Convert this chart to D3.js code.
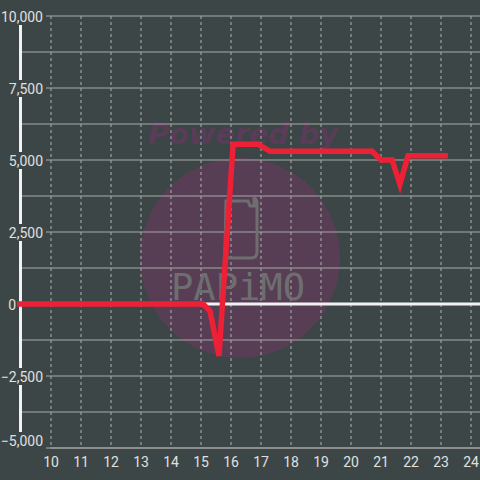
<!DOCTYPE html>
<html><head><meta charset="utf-8">
<script src="https://cdn.jsdelivr.net/npm/d3@7"></script>
<style>html,body{margin:0;padding:0;background:#3c4646;}svg{display:block;}</style>
</head><body>
<script>
const times = [8.87, 15.07, 15.3, 15.6, 16.07, 16.9, 17.3, 20.7, 21.0, 21.37, 21.63, 21.9, 23.23];
const values = [0, 0, -250, -1800, 5550, 5550, 5300, 5300, 5000, 5000, 4150, 5150, 5150];
const yTicks = [-5000, -2500, 0, 2500, 5000, 7500, 10000];
const yMinor = [-3750, -1250, 1250, 3750, 6250, 8750];
const xTicks = [10, 11, 12, 13, 14, 15, 16, 17, 18, 19, 20, 21, 22, 23, 24];

const W = 480, H = 480;
const svg = d3.select("body").append("svg").attr("width", W).attr("height", H);
svg.append("rect").attr("width", W).attr("height", H).attr("fill", "#3c4646");

const x = d3.scaleLinear().domain([10, 24]).range([51, 471]);
const y = d3.scaleLinear().domain([-5000, 10000]).range([448, 16]);

// watermark
svg.append("circle").attr("cx", 240).attr("cy", 258).attr("r", 100).attr("fill", "#573e54");
svg.append("text").attr("x", 243).attr("y", 144).attr("text-anchor", "middle")
  .attr("font-family", "'DejaVu Sans', sans-serif").attr("font-weight", "bold")
  .attr("font-style", "italic").attr("font-size", 28).attr("fill", "#5a3c58")
  .attr("textLength", 190).attr("lengthAdjust", "spacingAndGlyphs").text("Powered by");

// vertical dashed grid
svg.append("g").selectAll("line").data(xTicks).join("line")
  .attr("x1", d => x(d)).attr("x2", d => x(d)).attr("y1", 16).attr("y2", 448)
  .attr("stroke", "#b0b0b0").attr("stroke-width", 1).attr("stroke-dasharray", "3,3");

// horizontal grid (minor + major, excluding zero)
svg.append("g").selectAll("line").data(yMinor.concat(yTicks.filter(d => d !== 0))).join("line")
  .attr("x1", 22).attr("x2", W).attr("y1", d => y(d)).attr("y2", d => y(d))
  .attr("stroke", "#a8a8a8").attr("stroke-width", 1.2);

// phone icon + PAPiMO
svg.append("path").attr("fill", "none").attr("stroke", "#6e6e70").attr("stroke-width", 3)
  .attr("d", "M226,201 L248,201 L250,206 L254,206 L254,198 Q257,199 257,203 L257,252 Q257,258 251,258 L231,258 Q225,258 225,252 Z");
svg.append("text").attr("x", 238).attr("y", 300).attr("text-anchor", "middle")
  .attr("font-family", "'DejaVu Sans Mono', monospace").attr("font-size", 38)
  .attr("fill", "#6e6e70")
  .attr("textLength", 134).attr("lengthAdjust", "spacingAndGlyphs").text("PAPiMO");

// y axis line
svg.append("line").attr("x1", 20.5).attr("x2", 20.5).attr("y1", 16).attr("y2", 448)
  .attr("stroke", "#f2f2f2").attr("stroke-width", 3);

// y labels with background
const fmt = d3.format(",");
const yl = svg.append("g").selectAll("g").data(yTicks).join("g")
  .attr("transform", d => `translate(${d === 0 ? 16 : 43},${d === -5000 ? y(d) - 7 : y(d) + 1})`);
yl.filter(d => d !== 0).append("rect").attr("x", d => -(fmt(d).length * 7.6) - 2).attr("y", -9)
  .attr("width", d => fmt(d).length * 7.6 + 5).attr("height", 17).attr("fill", "#3c4646");
yl.append("text").attr("text-anchor", "end").attr("dy", "0.35em")
  .attr("font-family", "Roboto, 'Liberation Sans', sans-serif").attr("font-size", 14)
  .attr("fill", "#e0e0e0").text(d => fmt(d));

// zero line
svg.append("line").attr("x1", 19).attr("x2", W).attr("y1", y(0)).attr("y2", y(0))
  .attr("stroke", "#f2f2f2").attr("stroke-width", 3);

// data line
const pts = times.map((t, i) => [t, values[i]]);
svg.append("path").datum(pts)
  .attr("d", d3.line().x(d => x(d[0])).y(d => y(d[1])))
  .attr("fill", "none").attr("stroke", "#ee2036").attr("stroke-width", 5.5)
  .attr("stroke-linejoin", "miter");

// bottom axis line
svg.append("line").attr("x1", 50).attr("x2", W).attr("y1", 448).attr("y2", 448)
  .attr("stroke", "#a8a8a8").attr("stroke-width", 1.2);

// x labels
svg.append("g").selectAll("text").data(xTicks).join("text")
  .attr("x", d => x(d)).attr("y", 467).attr("text-anchor", "middle")
  .attr("font-family", "Roboto, 'Liberation Sans', sans-serif").attr("font-size", 14)
  .attr("fill", "#e0e0e0").text(d => d);
</script>
</body></html>
